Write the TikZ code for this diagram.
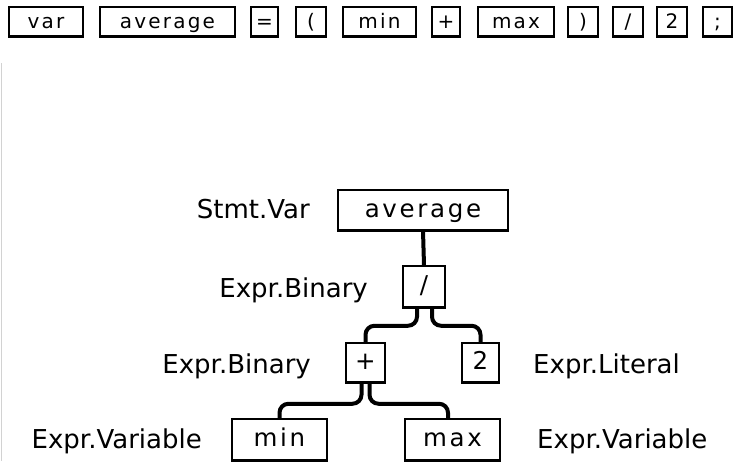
\documentclass[tikz,border=0pt]{standalone}
\usepackage{fontspec}
\setmainfont{DejaVu Sans}
\newfontfamily\tokfont[LetterSpace=11]{DejaVu Sans}

\tikzset{
  tok/.style={draw, line width=1.5pt, inner sep=0pt, text height=14.5pt, text depth=1pt,
    font=\tokfont\fontsize{20}{22}\selectfont, minimum height=29pt},
  tree/.style={draw, line width=1.5pt, inner sep=0pt, text height=17pt, text depth=3pt,
    font=\tokfont\fontsize{24.5}{26}\selectfont, minimum height=40pt},
  kind/.style={inner sep=0pt, font=\fontsize{26}{28}\selectfont},
  link/.style={line width=4pt, rounded corners=9pt}
}

\begin{document}
\begin{tikzpicture}[x=1pt, y=-1pt]
  \useasboundingbox (0,0) rectangle (741,461);
  \draw[gray!35, line width=0.8pt] (1,63) -- (1,461);

  % tokens
  \node[tok, minimum width=74pt] (tvar) at (46, 21.5) {var};
  \node[tok, minimum width=135pt] (tavg) at (167.5, 21.5) {average};
  \node[tok, minimum width=27pt] (teq) at (264.5, 21.5) {=};
  \node[tok, minimum width=30pt] (tlp) at (311, 21.5) {(};
  \node[tok, minimum width=73pt] (tmin) at (379.5, 21.5) {min};
  \node[tok, minimum width=28pt] (tplus) at (446, 21.5) {+};
  \node[tok, minimum width=76pt] (tmax) at (516, 21.5) {max};
  \node[tok, minimum width=30pt] (trp) at (583, 21.5) {)};
  \node[tok, minimum width=30pt] (tdiv) at (628, 21.5) {/};
  \node[tok, minimum width=30pt] (ttwo) at (672, 21.5) {2};
  \node[tok, minimum width=29pt] (tsemi) at (717.5, 21.5) {;};

  % syntax tree
  \node[tree, minimum width=170pt] (avg) at (423, 210) {average};
  \node[tree, minimum width=42pt, minimum height=41pt] (div) at (424, 286.5) {/};
  \node[tree, minimum width=39pt, minimum height=39pt] (plus) at (365.5, 362.5) {+};
  \node[tree, minimum width=37pt, minimum height=39pt] (two) at (480.5, 362.5) {2};
  \node[tree, minimum width=95pt, minimum height=41pt] (min) at (279.5, 439.5) {min};
  \node[tree, minimum width=95pt, minimum height=41pt] (max) at (452.5, 439.5) {max};

  \foreach \n in {tvar, tavg, teq, tlp, tmin, tplus, tmax, trp, tdiv, ttwo, tsemi,
                  avg, div, plus, two, min, max}
    \draw[line width=2.6pt] (\n.south west) -- (\n.south east);

  \node[kind, anchor=base east] (lvar) at (310, 218) {Stmt.Var};
  \node[kind, anchor=base east] (ldiv) at (368, 297) {Expr.Binary};
  \node[kind, anchor=base east] (lplus) at (311, 373) {Expr.Binary};
  \node[kind, anchor=base west] (ltwo) at (533, 373) {Expr.Literal};
  \node[kind, anchor=base east] (lmin) at (202, 448) {Expr.Variable};
  \node[kind, anchor=base west] (lmax) at (537, 448) {Expr.Variable};

  \draw[link] (avg.south) -- (div.north);
  \draw[link] ([xshift=-7pt]div.south) -- ++(0,18) -| (plus.north);
  \draw[link] ([xshift=8pt]div.south) -- ++(0,18) -| (two.north);
  \draw[link] ([xshift=-4pt]plus.south) -- ++(0,21) -| (min.north);
  \draw[link] ([xshift=4pt]plus.south) -- ++(0,21) -| ([xshift=-4.5pt]max.north);
\end{tikzpicture}
\end{document}
